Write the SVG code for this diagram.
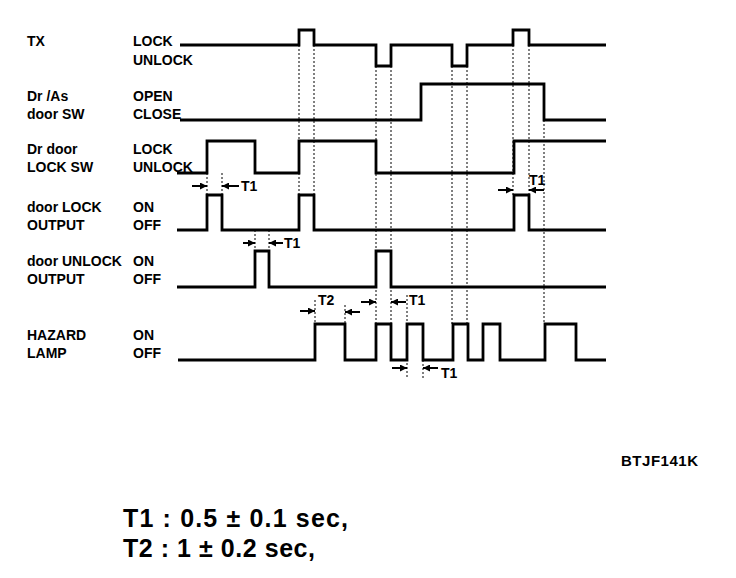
<svg xmlns="http://www.w3.org/2000/svg" width="736" height="578" viewBox="0 0 736 578">
<style>
text{font-family:"Liberation Sans",Arial,sans-serif;font-weight:bold;fill:#000}
.lbl{font-size:14px}
.sig{fill:none;stroke:#000;stroke-width:2.8;stroke-linejoin:miter;stroke-linecap:butt}
.dot{fill:none;stroke:#000;stroke-width:1;stroke-dasharray:2 2}
.arr{fill:none;stroke:#000;stroke-width:2;marker-end:url(#ah)}
</style>
<defs>
<marker id="ah" viewBox="0 0 10 10" refX="10" refY="5" markerUnits="userSpaceOnUse" markerWidth="8" markerHeight="7" orient="auto">
<path d="M0,0 L10,5 L0,10 Z" fill="#000"/>
</marker>
</defs>
<rect width="736" height="578" fill="#fff"/>

<g id="tx">
<text class="lbl" x="27" y="46">TX</text>
<text class="lbl" x="133" y="46">LOCK</text>
<text class="lbl" x="133" y="65">UNLOCK</text>
<path class="sig" d="M180,45 H299 V30 H314 V45 H376 V66 H391 V45 H452 V66 H467 V45 H513 V30 H529 V45 H606"/>
</g>

<g id="door-sw">
<text class="lbl" x="27" y="101">Dr /As</text>
<text class="lbl" x="27" y="119">door SW</text>
<text class="lbl" x="133" y="101">OPEN</text>
<text class="lbl" x="133" y="119">CLOSE</text>
<path class="sig" d="M180,120 H421 V84 H544 V120 H606"/>
</g>

<g id="lock-sw">
<text class="lbl" x="27" y="154">Dr door</text>
<text class="lbl" x="27" y="172">LOCK SW</text>
<text class="lbl" x="133" y="154">LOCK</text>
<text class="lbl" x="133" y="172">UNLOCK</text>
<path class="sig" d="M177,173 H207 V141 H255 V173 H299 V141 H376 V173 H514 V141 H606"/>
</g>

<g id="lock-output">
<text class="lbl" x="27" y="212">door LOCK</text>
<text class="lbl" x="27" y="230">OUTPUT</text>
<text class="lbl" x="133" y="212">ON</text>
<text class="lbl" x="133" y="230">OFF</text>
<path class="sig" d="M177,230 H207 V195 H222 V230 H299 V195 H314 V230 H514 V195 H529 V230 H606"/>
</g>

<g id="unlock-output">
<text class="lbl" x="27" y="266">door UNLOCK</text>
<text class="lbl" x="27" y="284">OUTPUT</text>
<text class="lbl" x="133" y="266">ON</text>
<text class="lbl" x="133" y="284">OFF</text>
<path class="sig" d="M177,287 H255 V251 H269 V287 H376 V251 H391 V287 H606"/>
</g>

<g id="hazard">
<text class="lbl" x="27" y="340">HAZARD</text>
<text class="lbl" x="27" y="358">LAMP</text>
<text class="lbl" x="133" y="340">ON</text>
<text class="lbl" x="133" y="358">OFF</text>
<path class="sig" d="M178,360 H315 V324 H345 V360 H376 V324 H391 V360 H407 V324 H423 V360 H453 V324 H468 V360 H483 V324 H500 V360 H545 V324 H576 V360 H606"/>
</g>

<g id="connectors">
<path class="dot" d="M299,45 V195 M314,45 V195 M376,66 V324 M391,66 V324 M452,66 V324 M467,66 V324 M513,45 V195 M529,45 V195 M544,120 V324 M207,173 V195 M222,173 V195 M255,230 V251 M269,230 V251 M315,300 V324 M345,305 V324 M407,295 V378 M423,360 V378"/>
<path class="arr" d="M192,186 H207"/>
<path class="arr" d="M239,186 H222"/>
<path class="arr" d="M243,243 H255"/>
<path class="arr" d="M283,243 H269"/>
<path class="arr" d="M300,311 H315"/>
<path class="arr" d="M360,312 H345"/>
<path class="arr" d="M361,302 H376"/>
<path class="arr" d="M406,302 H391"/>
<path class="arr" d="M392,368 H407"/>
<path class="arr" d="M438,368 H423"/>
<path class="arr" d="M498,190 H513"/>
<path class="arr" d="M544,190 H529"/>
<text class="lbl" x="241" y="191">T1</text>
<text class="lbl" x="284" y="248">T1</text>
<text class="lbl" x="318" y="305">T2</text>
<text class="lbl" x="409" y="305">T1</text>
<text class="lbl" x="441" y="378">T1</text>
<text class="lbl" x="529" y="185">T1</text>
</g>

<text x="621" y="466" font-size="15" textLength="77" lengthAdjust="spacing">BTJF141K</text>
<text x="123" y="527" font-size="25" textLength="225" lengthAdjust="spacing">T1 : 0.5 ± 0.1 sec,</text>
<text x="123" y="557" font-size="25" textLength="192" lengthAdjust="spacing">T2 : 1 ± 0.2 sec,</text>
</svg>
